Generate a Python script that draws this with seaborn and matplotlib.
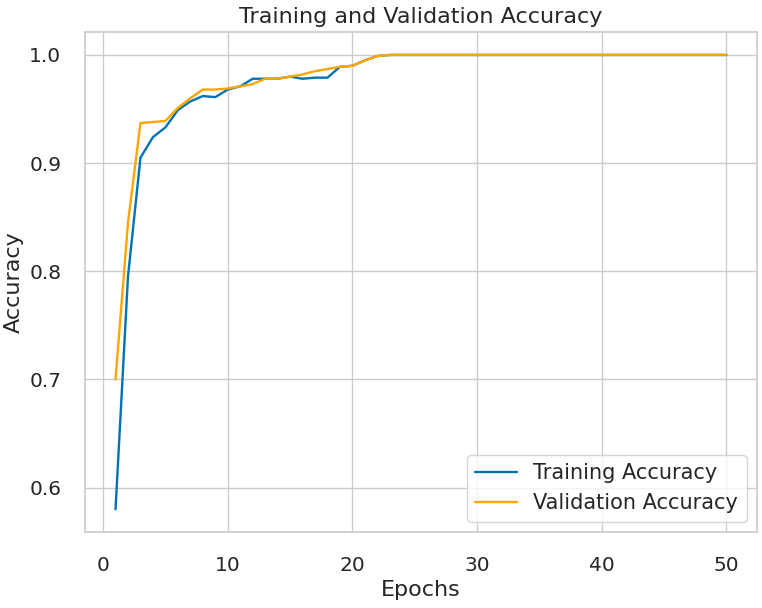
import numpy as np
import pandas as pd
import matplotlib
matplotlib.use('Agg')
import matplotlib.pyplot as plt
import seaborn as sns

# accuracy per epoch
epochs = list(range(1, 51))
train_acc = [0.580, 0.795, 0.905, 0.924, 0.933, 0.949, 0.957, 0.962, 0.961, 0.968,
             0.971, 0.978, 0.978, 0.978, 0.980, 0.978, 0.979, 0.979, 0.989, 0.990,
             0.995, 0.999] + [1.0] * 28
val_acc = [0.700, 0.845, 0.937, 0.938, 0.939, 0.951, 0.960, 0.968, 0.968, 0.969,
           0.971, 0.973, 0.978, 0.978, 0.980, 0.982, 0.985, 0.987, 0.989, 0.990,
           0.995, 0.999] + [1.0] * 28

sns.set_theme(style='whitegrid')

fig = plt.figure(figsize=(7.62, 6.08), dpi=100)
ax = fig.add_axes([0.1115, 0.125, 0.882, 0.822])

sns.lineplot(x=epochs, y=train_acc, ax=ax, color='#0173b2', linewidth=1.7, label='Training Accuracy')
sns.lineplot(x=epochs, y=val_acc, ax=ax, color='orange', linewidth=1.7, label='Validation Accuracy')

ax.set_title('Training and Validation Accuracy', fontsize=16, pad=7)
ax.set_xlabel('Epochs', fontsize=16)
ax.set_ylabel('Accuracy', fontsize=16)
ax.tick_params(labelsize=14.5, pad=11)
ax.set_xticks([0, 10, 20, 30, 40, 50])
ax.set_yticks([0.6, 0.7, 0.8, 0.9, 1.0])
ax.legend(loc='lower right', fontsize=15)

fig.savefig('out.png', dpi=100)
